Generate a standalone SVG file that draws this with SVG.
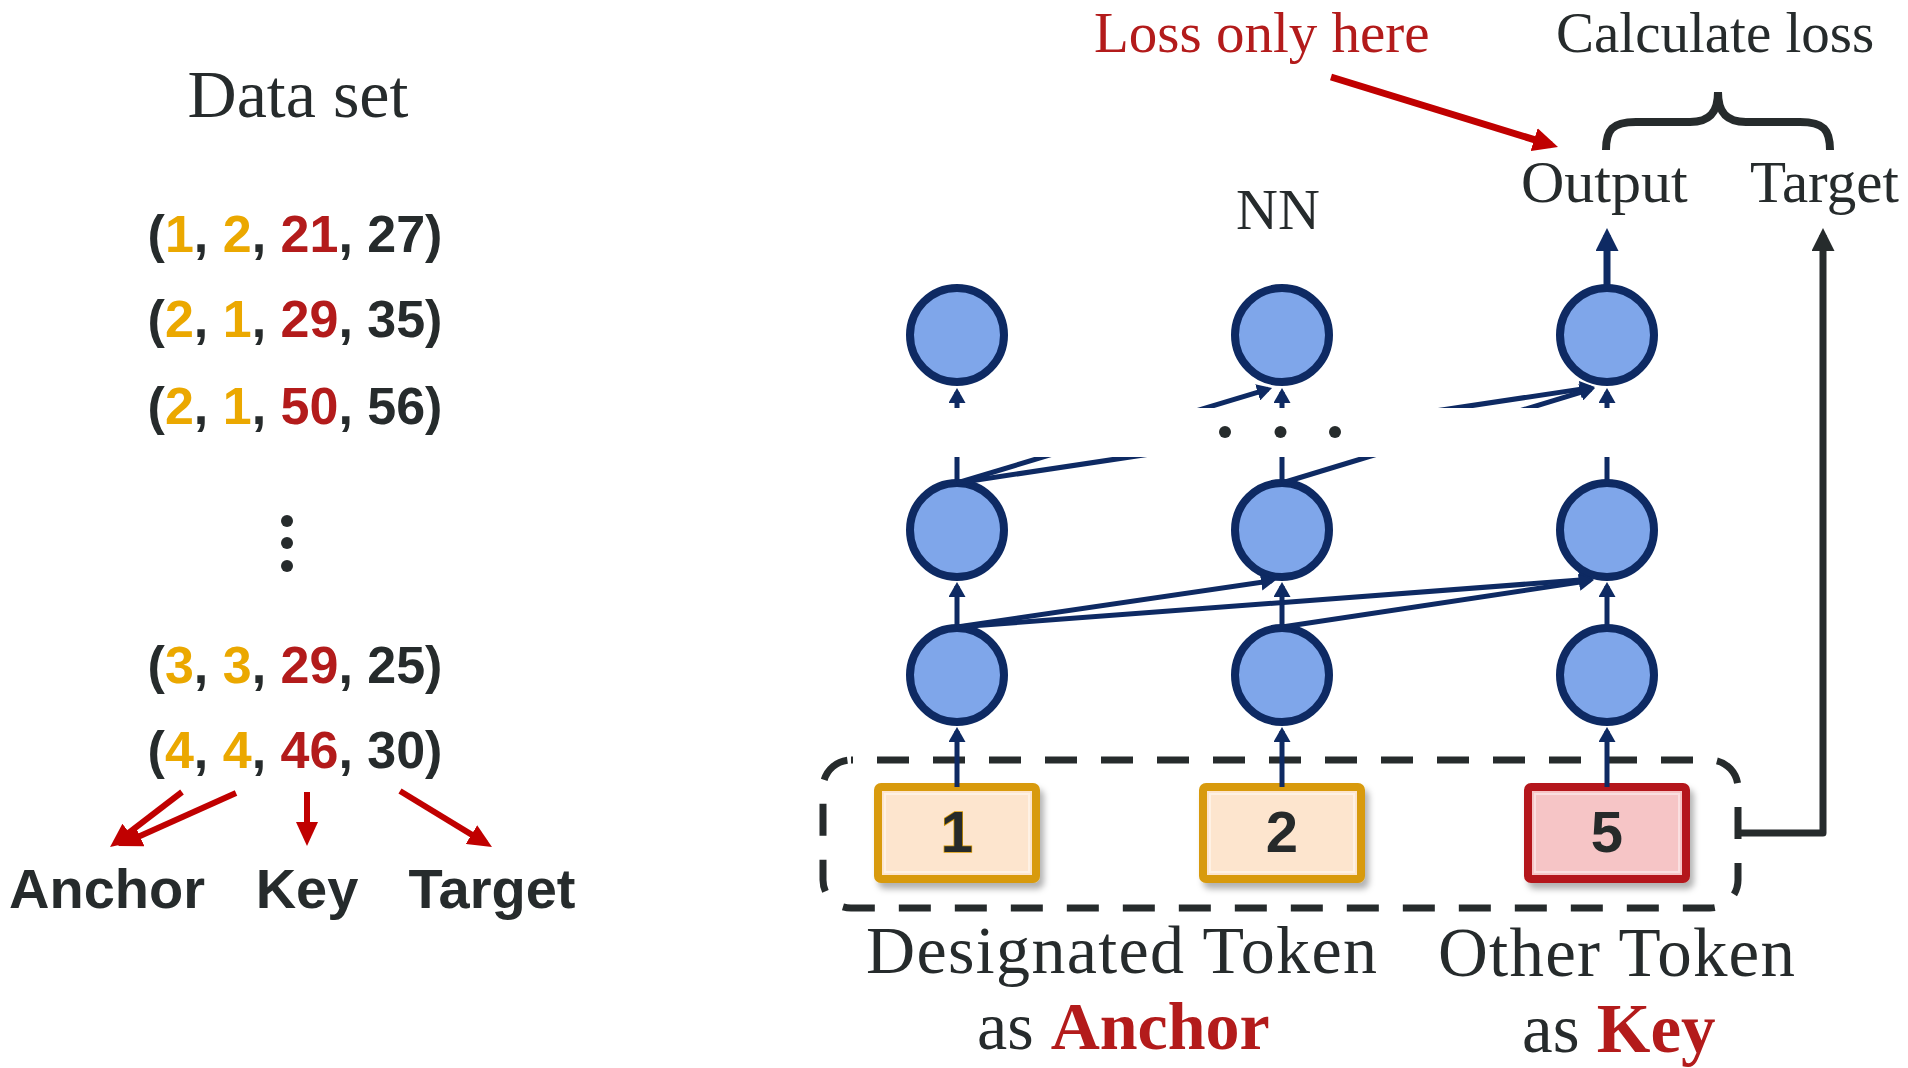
<svg xmlns="http://www.w3.org/2000/svg" width="1908" height="1068" viewBox="0 0 1908 1068">
<style>
.serif{font-family:"Liberation Serif","Times New Roman",serif;fill:#262B2C}
.sans{font-family:"Liberation Sans",Arial,sans-serif;font-weight:bold;fill:#262B2C}
.y{fill:#EBA800}
.r{fill:#B31B1B}
.neuron{fill:#7FA6EA;stroke:#0E2A63;stroke-width:8}
.nn{stroke:#0E2A63;stroke-width:5;fill:none;marker-end:url(#hNavy)}
.red{stroke:#C00000;stroke-width:6;fill:none;marker-end:url(#hRed)}
.dot{fill:#262B2C}
.tok{stroke-width:8}
.tokY{fill:#FDE5CE;stroke:#D89A08}
.tokR{fill:#F6C5C6;stroke:#B4181B}
.inner{fill:none;stroke:#FFFFFF;stroke-opacity:0.45;stroke-width:2}
.digit{font-family:"Liberation Sans",Arial,sans-serif;font-weight:bold;font-size:58px;fill:#262B2C;text-anchor:middle}
</style>
<defs>
<marker id="hNavy" markerUnits="userSpaceOnUse" markerWidth="15" markerHeight="17" refX="11" refY="8.5" orient="auto"><path d="M0,0 L15,8.5 L0,17 z" fill="#0E2A63"/></marker>
<marker id="hNavyBig" markerUnits="userSpaceOnUse" markerWidth="23" markerHeight="23" refX="16" refY="11.5" orient="auto"><path d="M0,0 L23,11.5 L0,23 z" fill="#0E2A63"/></marker>
<marker id="hDark" markerUnits="userSpaceOnUse" markerWidth="23" markerHeight="23" refX="16" refY="11.5" orient="auto"><path d="M0,0 L23,11.5 L0,23 z" fill="#262B2C"/></marker>
<marker id="hRed" markerUnits="userSpaceOnUse" markerWidth="24" markerHeight="22" refX="17" refY="11" orient="auto"><path d="M0,0 L24,11 L0,22 z" fill="#C00000"/></marker>
<marker id="hRedBig" markerUnits="userSpaceOnUse" markerWidth="25" markerHeight="24" refX="18" refY="12" orient="auto"><path d="M0,0 L25,12 L0,24 z" fill="#C00000"/></marker>
<clipPath id="band"><rect x="0" y="0" width="1908" height="408"/><rect x="0" y="457" width="1908" height="611"/></clipPath>
<filter id="sh" x="-10%" y="-15%" width="130%" height="145%"><feDropShadow dx="4" dy="6" stdDeviation="3" flood-color="#000" flood-opacity="0.3"/></filter>
</defs>
<rect width="1908" height="1068" fill="#FFFFFF"/>

<g id="dataset">
<text class="serif" x="298" y="117" font-size="68" text-anchor="middle">Data set</text>
<g class="sans" font-size="52" text-anchor="middle">
<text x="295" y="252">(<tspan class="y">1</tspan>, <tspan class="y">2</tspan>, <tspan class="r">21</tspan>, 27)</text>
<text x="295" y="337">(<tspan class="y">2</tspan>, <tspan class="y">1</tspan>, <tspan class="r">29</tspan>, 35)</text>
<text x="295" y="424">(<tspan class="y">2</tspan>, <tspan class="y">1</tspan>, <tspan class="r">50</tspan>, 56)</text>
<text x="295" y="683">(<tspan class="y">3</tspan>, <tspan class="y">3</tspan>, <tspan class="r">29</tspan>, 25)</text>
<text x="295" y="768">(<tspan class="y">4</tspan>, <tspan class="y">4</tspan>, <tspan class="r">46</tspan>, 30)</text>
</g>
<circle class="dot" cx="287" cy="521" r="6"/>
<circle class="dot" cx="287" cy="543" r="6"/>
<circle class="dot" cx="287" cy="566" r="6"/>
</g>

<g id="role-labels" class="sans" font-size="56" text-anchor="middle">
<text x="107" y="908">Anchor</text>
<text x="307" y="908">Key</text>
<text x="492" y="908">Target</text>
</g>

<g id="dashed-group">
<rect x="823" y="760" width="915" height="148" rx="28" fill="none" stroke="#262B2C" stroke-width="7" stroke-dasharray="32 24" stroke-dashoffset="30"/>
</g>

<g id="token-1" filter="url(#sh)">
<rect class="tok tokY" x="878" y="787" width="158" height="92" rx="3"/>
<rect class="inner" x="885" y="794" width="144" height="78"/>
<text class="digit" x="957" y="852" stroke="#D89A08" stroke-width="1.5" paint-order="stroke">1</text>
</g>
<g id="token-2" filter="url(#sh)">
<rect class="tok tokY" x="1203" y="787" width="158" height="92" rx="3"/>
<rect class="inner" x="1210" y="794" width="144" height="78"/>
<text class="digit" x="1282" y="852">2</text>
</g>
<g id="token-5" filter="url(#sh)">
<rect class="tok tokR" x="1528" y="787" width="158" height="92" rx="3"/>
<rect class="inner" x="1535" y="794" width="144" height="78"/>
<text class="digit" x="1607" y="852">5</text>
</g>

<g id="neurons">
<g id="n-l1-c1"><circle class="neuron" cx="957" cy="675" r="47"/></g>
<g id="n-l1-c2"><circle class="neuron" cx="1282" cy="675" r="47"/></g>
<g id="n-l1-c3"><circle class="neuron" cx="1607" cy="675" r="47"/></g>
<g id="n-l2-c1"><circle class="neuron" cx="957" cy="530" r="47"/></g>
<g id="n-l2-c2"><circle class="neuron" cx="1282" cy="530" r="47"/></g>
<g id="n-l2-c3"><circle class="neuron" cx="1607" cy="530" r="47"/></g>
<g id="n-l3-c1"><circle class="neuron" cx="957" cy="335" r="47"/></g>
<g id="n-l3-c2"><circle class="neuron" cx="1282" cy="335" r="47"/></g>
<g id="n-l3-c3"><circle class="neuron" cx="1607" cy="335" r="47"/></g>
</g>

<g id="connectors">
<path class="nn" d="M957,787 V731"/>
<path class="nn" d="M1282,787 V731"/>
<path class="nn" d="M1607,787 V731"/>
<path class="nn" d="M957,627 V586"/>
<path class="nn" d="M1282,627 V586"/>
<path class="nn" d="M1607,627 V586"/>
<path class="nn" d="M957,627 L1272,580.6"/>
<path class="nn" d="M957,627 L1590,579.3"/>
<path class="nn" d="M1282,627 L1590,580.6"/>
<g clip-path="url(#band)">
<path class="nn" d="M957,483 V392"/>
<path class="nn" d="M1282,483 V392"/>
<path class="nn" d="M1607,483 V392"/>
<path class="nn" d="M957,483 L1268.2,389.2"/>
<path class="nn" d="M957,483 L1591,387.6"/>
<path class="nn" d="M1282,483 L1591.2,389.2"/>
</g>
<path d="M1607,286 V235" stroke="#0E2A63" stroke-width="7" fill="none" marker-end="url(#hNavyBig)"/>
<path d="M1737,833 H1823 V235" stroke="#262B2C" stroke-width="7" fill="none" stroke-linejoin="round" marker-end="url(#hDark)"/>
<path d="M1331,77 L1551.3,144.9" stroke="#C00000" stroke-width="7" fill="none" marker-end="url(#hRedBig)"/>
<path class="red" d="M182,792 L115.6,842.8"/>
<path class="red" d="M236,793 L124.4,843.1"/>
<path class="red" d="M307,792 L307,839"/>
<path class="red" d="M400,791 L486,843.4"/>
</g>

<g id="nn-dots">
<circle class="dot" cx="1225" cy="432" r="6"/>
<circle class="dot" cx="1280.5" cy="432" r="6"/>
<circle class="dot" cx="1335" cy="432" r="6"/>
</g>

<g id="brace">
<path d="M1606,150 C1606,130 1612,122 1636,122 L1690,122 C1710,122 1718,112 1718,92 C1718,112 1726,122 1746,122 L1800,122 C1824,122 1830,130 1830,150" fill="none" stroke="#262B2C" stroke-width="8"/>
</g>

<g id="labels">
<text x="1094" y="52" font-size="57" font-family="Liberation Serif, Times New Roman, serif" fill="#B31B1B">Loss only here</text>
<text class="serif" x="1556" y="52" font-size="57">Calculate loss</text>
<text class="serif" x="1278" y="229" font-size="58" text-anchor="middle">NN</text>
<text class="serif" x="1521" y="202" font-size="60">Output</text>
<text class="serif" x="1750" y="202" font-size="59">Target</text>
<text class="serif" x="866" y="973" font-size="68" textLength="511">Designated Token</text>
<text class="serif" x="977" y="1049" font-size="68">as <tspan class="r" font-weight="bold">Anchor</tspan></text>
<text class="serif" x="1438" y="976" font-size="69" textLength="357">Other Token</text>
<text class="serif" x="1522" y="1052" font-size="69">as <tspan class="r" font-weight="bold">Key</tspan></text>
</g>
</svg>
